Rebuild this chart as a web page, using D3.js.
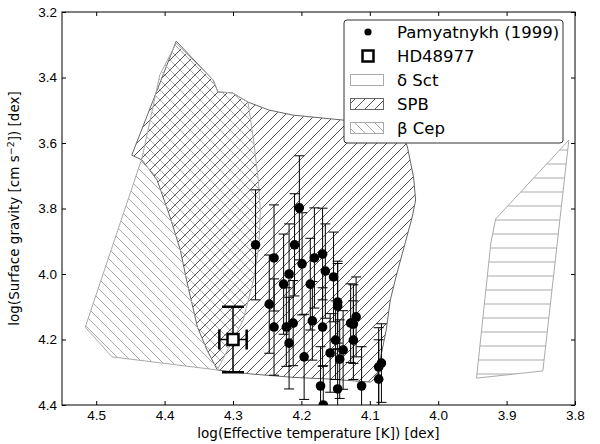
<!DOCTYPE html>
<html>
<head>
<meta charset="utf-8">
<title>HR diagram - HD48977</title>
<style>
  body{margin:0;background:#fff;}
  svg{display:block;font-family:"DejaVu Sans",sans-serif;}
  .axis text{font-size:13.5px;fill:#000;}
  .axis path{display:none;}
  .axis line{stroke:#000;}
  .lab{font-size:13.5px;fill:#000;}
  .leg{font-size:16.5px;fill:#000;}
</style>
<script src="https://d3js.org/d3.v7.min.js"></script>
</head>
<body>
<svg id="chart" width="600" height="444"></svg>
<script>
// Pamyatnykh (1999) points
var pamTeff = [4.267,4.240,4.203,4.210,4.199,4.181,4.169,4.226,4.218,4.187,4.165,4.153,4.247,4.147,4.147,
               4.240,4.222,4.212,4.184,4.169,4.218,4.196,4.150,4.158,4.139,4.144,4.124,4.120,4.128,4.124,
               4.172,4.147,4.168,4.112,4.083,4.087,4.087];
var pamLogg = [3.911,3.951,3.798,3.911,3.969,3.951,3.939,4.031,4.000,4.031,3.991,4.009,4.092,4.086,4.098,
               4.162,4.162,4.150,4.143,4.162,4.211,4.253,4.202,4.241,4.232,4.260,4.153,4.131,4.150,4.202,
               4.342,4.351,4.400,4.342,4.272,4.284,4.321];
var pamErr  = [0.168,0.162,0.159,0.156,0.156,0.153,0.140,0.153,0.153,0.140,0.144,0.137,0.150,0.125,0.130,
               0.147,0.120,0.130,0.120,0.120,0.140,0.130,0.120,0.120,0.120,0.120,0.120,0.122,0.120,0.120,
               0.120,0.120,0.120,0.120,0.120,0.120,0.120];

// HD48977
var hdTeff = [4.30];
var hdLogg = [4.20];
var hdTeffErr = [0.02];
var hdLoggErr = [0.10];

// instability regions
var dsctTeff = [3.809,3.916,3.923,3.944,3.847];
var dsctLogg = [3.591,3.832,3.905,4.318,4.296];

var spbTeff = [4.383,4.329,4.322,4.301,4.278,4.248,4.212,4.139,4.055,4.045,4.036,4.033,4.038,4.049,4.061,
               4.070,4.076,4.090,4.099,4.158,4.216,4.275,4.323,4.338,4.352,4.367,4.377,4.392,4.411,4.433,4.448];
var spbLogg = [3.289,3.408,3.444,3.447,3.475,3.499,3.515,3.530,3.554,3.612,3.704,3.774,3.826,3.911,4.003,
               4.079,4.171,4.315,4.330,4.321,4.315,4.305,4.293,4.232,4.162,4.027,3.927,3.826,3.713,3.652,3.637];

var bcepTeff = [4.383,4.329,4.322,4.301,4.278,4.270,4.263,4.260,4.262,4.270,4.285,4.323,4.477,4.516,4.433,4.407];
var bcepLogg = [3.295,3.408,3.444,3.447,3.475,3.591,3.713,3.805,3.911,4.018,4.140,4.293,4.253,4.162,3.646,3.392];

var xTicks = [4.5,4.4,4.3,4.2,4.1,4.0,3.9,3.8];
var yTicks = [3.2,3.4,3.6,3.8,4.0,4.2,4.4];
var legendLabels = ["Pamyatnykh (1999)","HD48977","δ Sct","SPB","β Cep"];

var pL = 62, pR = 575, pT = 12, pB = 405;

var x = d3.scaleLinear().domain([4.55,3.8]).range([pL,pR]);
var y = d3.scaleLinear().domain([3.2,4.4]).range([pT,pB]);

var svg = d3.select("#chart");
var defs = svg.append("defs");

// hatches
defs.append("pattern").attr("id","hSPB").attr("patternUnits","userSpaceOnUse")
  .attr("width",10).attr("height",10)
  .append("path").attr("d","M0,10L10,0M-2,2L2,-2M8,12L12,8")
  .attr("stroke","#555").attr("stroke-width",1);
defs.append("pattern").attr("id","hBCEP").attr("patternUnits","userSpaceOnUse")
  .attr("width",10).attr("height",10)
  .append("path").attr("d","M0,0L10,10M-2,8L2,12M8,-2L12,2")
  .attr("stroke","#aaa").attr("stroke-width",1);
defs.append("pattern").attr("id","hDSCT").attr("patternUnits","userSpaceOnUse")
  .attr("width",14).attr("height",14)
  .append("path").attr("d","M0,10H14")
  .attr("stroke","#aaa").attr("stroke-width",1);

defs.append("clipPath").attr("id","plotClip")
  .append("rect").attr("x",pL).attr("y",pT).attr("width",pR-pL).attr("height",pB-pT);

var plot = svg.append("g").attr("clip-path","url(#plotClip)");

function poly(tx, ly){
  return tx.map(function(d,i){ return x(d) + "," + y(ly[i]); }).join(" ");
}

plot.append("polygon").attr("points",poly(dsctTeff,dsctLogg))
  .attr("fill","url(#hDSCT)").attr("stroke","#aaa").attr("stroke-width",1);
plot.append("polygon").attr("points",poly(spbTeff,spbLogg))
  .attr("fill","url(#hSPB)").attr("stroke","#666").attr("stroke-width",1);
plot.append("polygon").attr("points",poly(bcepTeff,bcepLogg))
  .attr("fill","url(#hBCEP)").attr("stroke","#aaa").attr("stroke-width",1);

// error bars of Pamyatnykh points
var eb = plot.selectAll("g.eb").data(pamTeff).enter().append("g").attr("class","eb")
  .attr("stroke","#000").attr("stroke-width",1);
eb.append("line")
  .attr("x1",function(d){return x(d);}).attr("x2",function(d){return x(d);})
  .attr("y1",function(d,i){return y(pamLogg[i]-pamErr[i]);})
  .attr("y2",function(d,i){return y(pamLogg[i]+pamErr[i]);});
eb.append("line")
  .attr("x1",function(d){return x(d)-5;}).attr("x2",function(d){return x(d)+5;})
  .attr("y1",function(d,i){return y(pamLogg[i]-pamErr[i]);})
  .attr("y2",function(d,i){return y(pamLogg[i]-pamErr[i]);});
eb.append("line")
  .attr("x1",function(d){return x(d)-5;}).attr("x2",function(d){return x(d)+5;})
  .attr("y1",function(d,i){return y(pamLogg[i]+pamErr[i]);})
  .attr("y2",function(d,i){return y(pamLogg[i]+pamErr[i]);});

plot.selectAll("circle.pam").data(pamTeff).enter().append("circle").attr("class","pam")
  .attr("cx",function(d){return x(d);})
  .attr("cy",function(d,i){return y(pamLogg[i]);})
  .attr("r",4.8).attr("fill","#000");

// HD48977 with error bars
var hd = plot.selectAll("g.hd").data(hdTeff).enter().append("g").attr("class","hd").attr("stroke","#000");
hd.append("line").attr("stroke-width",1.5)
  .attr("x1",function(d){return x(d);}).attr("x2",function(d){return x(d);})
  .attr("y1",function(d,i){return y(hdLogg[i]-hdLoggErr[i]);})
  .attr("y2",function(d,i){return y(hdLogg[i]+hdLoggErr[i]);});
hd.append("line").attr("stroke-width",1.5)
  .attr("x1",function(d,i){return x(d-hdTeffErr[i]);}).attr("x2",function(d,i){return x(d+hdTeffErr[i]);})
  .attr("y1",function(d,i){return y(hdLogg[i]);}).attr("y2",function(d,i){return y(hdLogg[i]);});
[-1,1].forEach(function(s){
  hd.append("line").attr("stroke-width",2.5)
    .attr("x1",function(d){return x(d)-11;}).attr("x2",function(d){return x(d)+11;})
    .attr("y1",function(d,i){return y(hdLogg[i]+s*hdLoggErr[i]);})
    .attr("y2",function(d,i){return y(hdLogg[i]+s*hdLoggErr[i]);});
  hd.append("line").attr("stroke-width",2.5)
    .attr("x1",function(d,i){return x(d+s*hdTeffErr[i]);}).attr("x2",function(d,i){return x(d+s*hdTeffErr[i]);})
    .attr("y1",function(d,i){return y(hdLogg[i])-10;})
    .attr("y2",function(d,i){return y(hdLogg[i])+10;});
});
hd.append("rect").attr("stroke-width",2.5).attr("fill","#fff")
  .attr("x",function(d){return x(d)-5.5;})
  .attr("y",function(d,i){return y(hdLogg[i])-5.5;})
  .attr("width",11).attr("height",11);

// axes, ticks inward on all four sides
var fmt = d3.format(".1f");
svg.append("g").attr("class","axis").attr("transform","translate(0,"+pB+")")
  .call(d3.axisBottom(x).tickValues(xTicks).tickFormat(fmt).tickSizeInner(-4).tickSizeOuter(0).tickPadding(5));
svg.append("g").attr("class","axis").attr("transform","translate(0,"+pT+")")
  .call(d3.axisTop(x).tickValues(xTicks).tickFormat("").tickSizeInner(-4).tickSizeOuter(0));
svg.append("g").attr("class","axis").attr("transform","translate("+pL+",0)")
  .call(d3.axisLeft(y).tickValues(yTicks).tickFormat(fmt).tickSizeInner(-4).tickSizeOuter(0).tickPadding(5));
svg.append("g").attr("class","axis").attr("transform","translate("+pR+",0)")
  .call(d3.axisRight(y).tickValues(yTicks).tickFormat("").tickSizeInner(-4).tickSizeOuter(0));

svg.append("rect").attr("x",pL).attr("y",pT).attr("width",pR-pL).attr("height",pB-pT)
  .attr("fill","none").attr("stroke","#000").attr("stroke-width",1);

svg.append("text").attr("class","lab").attr("x",(pL+pR)/2).attr("y",438)
  .attr("text-anchor","middle").text("log(Effective temperature [K]) [dex]");
var yl = svg.append("text").attr("class","lab").attr("text-anchor","middle")
  .attr("transform","translate(19,"+((pT+pB)/2)+") rotate(-90)");
yl.append("tspan").text("log(Surface gravity [cm s");
yl.append("tspan").attr("dy",-5).attr("font-size","9.5px").text("−2");
yl.append("tspan").attr("dy",5).text("]) [dex]");

// legend
var lg = svg.append("g");
lg.append("rect").attr("x",344).attr("y",20).attr("width",219).attr("height",123).attr("rx",3)
  .attr("fill","#fff").attr("stroke","#333").attr("stroke-width",1);
var rows = lg.selectAll("g.row").data(legendLabels).enter().append("g").attr("class","row")
  .attr("transform",function(d,i){return "translate(0,"+(32+i*24)+")";});
rows.append("text").attr("class","leg").attr("x",397).attr("dy","0.36em").text(function(d){return d;});
rows.filter(function(d,i){return i===0;}).append("circle").attr("cx",368).attr("r",3.6).attr("fill","#000");
rows.filter(function(d,i){return i===1;}).append("rect").attr("x",362.5).attr("y",-5.5)
  .attr("width",11).attr("height",11).attr("fill","#fff").attr("stroke","#000").attr("stroke-width",2.5);
var patchFill = [null,null,"none","url(#hSPB)","url(#hBCEP)"];
var patchStroke = [null,null,"#aaa","#666","#aaa"];
rows.filter(function(d,i){return i>1;}).append("rect")
  .attr("x",350.5).attr("y",-5.5).attr("width",33).attr("height",11)
  .attr("fill",function(d){return patchFill[legendLabels.indexOf(d)];})
  .attr("stroke",function(d){return patchStroke[legendLabels.indexOf(d)];});
</script>
</body>
</html>
